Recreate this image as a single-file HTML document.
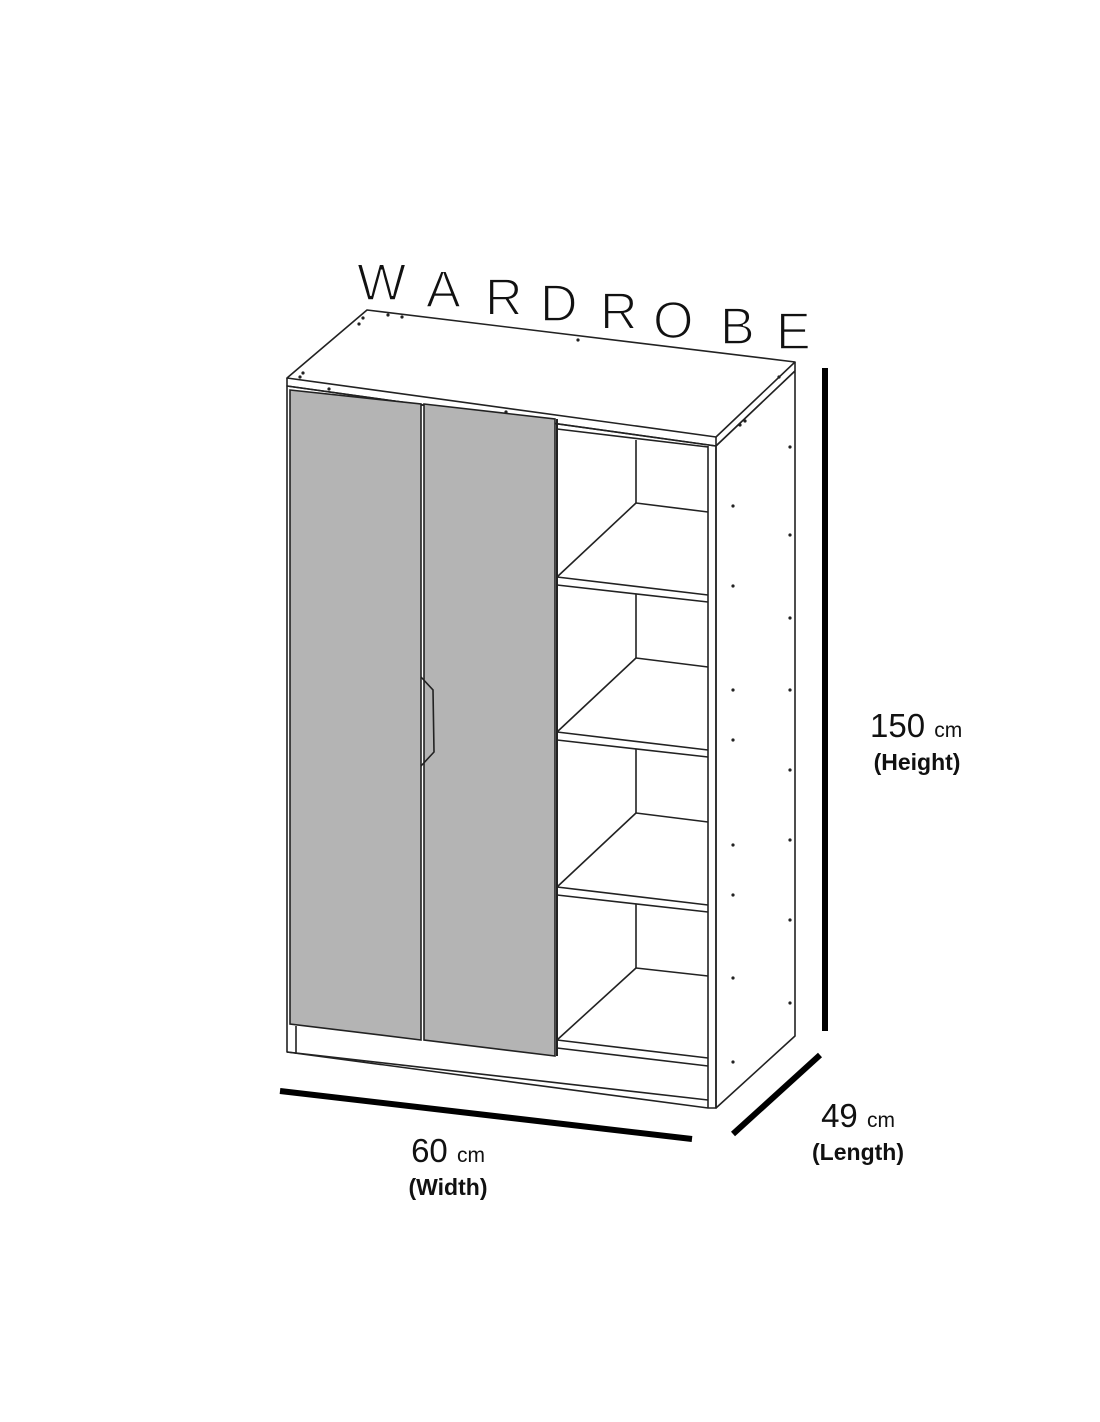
<!DOCTYPE html>
<html><head><meta charset="utf-8"><style>
html,body{margin:0;padding:0;background:#fff;}
svg{display:block}
text{font-family:"Liberation Sans",sans-serif;fill:#111}
</style></head><body>
<svg width="1100" height="1422" viewBox="0 0 1100 1422" xmlns="http://www.w3.org/2000/svg">
<g font-size="52" font-weight="normal" style="stroke:#fff;stroke-width:1.6px;paint-order:normal">
<text x="357" y="300">W</text>
<text x="426" y="307">A</text>
<text x="485" y="315">R</text>
<text x="540" y="321">D</text>
<text x="600" y="329">R</text>
<text x="653" y="338">O</text>
<text x="720" y="344">B</text>
<text x="776" y="349">E</text>
</g>
<g fill="none" stroke="#222" stroke-width="1.6" stroke-linejoin="round">
<polygon points="287,378 367,310 795,362 716,437" fill="#fff"/>
<polyline points="287,378 287,386 716,446 716,437"/>
<line x1="716" y1="446" x2="795" y2="371"/>
<line x1="795" y1="362" x2="795" y2="371"/>
<polygon points="716,446 795,371 795,1036 716,1108" fill="#fff"/>
<line x1="708" y1="446" x2="708" y2="1108"/>
<polygon points="287,386 287,1052 708,1108 716,1108 716,446" fill="none"/>
<line x1="287" y1="1052" x2="708" y2="1100"/>
<line x1="296" y1="1026" x2="296" y2="1054"/>
<line x1="557" y1="429" x2="708" y2="447"/>
<line x1="636" y1="440" x2="636" y2="503"/>
<line x1="557" y1="1048" x2="708" y2="1066"/>
<line x1="557" y1="1040" x2="708" y2="1058"/>
</g>
<g fill="none" stroke="#222" stroke-width="1.6">
<g id="sh">
<line x1="557" y1="577" x2="636" y2="503"/>
<line x1="636" y1="503" x2="708" y2="512"/>
<line x1="557" y1="577" x2="708" y2="595"/>
<line x1="557" y1="585" x2="708" y2="602"/>
<line x1="636" y1="594" x2="636" y2="658"/>
</g>
<use href="#sh" transform="translate(0,155)"/>
<use href="#sh" transform="translate(0,310)"/>
<line x1="557" y1="1040" x2="636" y2="968"/>
<line x1="636" y1="968" x2="708" y2="976"/>
</g>
<g stroke="#222" stroke-width="1.6" fill="#b4b4b4">
<polygon points="290,390 421,404 421,1040 290,1024"/>
<polygon points="424,404 555,419 555,1056 424,1040"/>
<path d="M421,677 L433,690 L434,752 L421,766" fill="none"/>
</g>
<line x1="557" y1="419" x2="557" y2="1056" stroke="#222" stroke-width="2"/>
<g fill="#222">
<circle cx="733" cy="506" r="1.6"/><circle cx="733" cy="586" r="1.6"/><circle cx="733" cy="690" r="1.6"/><circle cx="733" cy="740" r="1.6"/>
<circle cx="733" cy="845" r="1.6"/><circle cx="733" cy="895" r="1.6"/><circle cx="733" cy="978" r="1.6"/><circle cx="733" cy="1062" r="1.6"/>
<circle cx="790" cy="447" r="1.6"/><circle cx="790" cy="535" r="1.6"/><circle cx="790" cy="618" r="1.6"/><circle cx="790" cy="690" r="1.6"/>
<circle cx="790" cy="770" r="1.6"/><circle cx="790" cy="840" r="1.6"/><circle cx="790" cy="920" r="1.6"/><circle cx="790" cy="1003" r="1.6"/>
<circle cx="359" cy="324" r="1.6"/><circle cx="363" cy="318" r="1.6"/><circle cx="402" cy="317" r="1.6"/><circle cx="388" cy="315" r="1.6"/>
<circle cx="303" cy="373" r="1.6"/><circle cx="300" cy="377" r="1.6"/><circle cx="329" cy="389" r="1.6"/><circle cx="506" cy="412" r="1.6"/>
<circle cx="578" cy="340" r="1.6"/><circle cx="740" cy="425" r="1.6"/><circle cx="745" cy="421" r="1.6"/><circle cx="779" cy="377" r="1.6"/>
</g>
<g stroke="#000" stroke-width="6" stroke-linecap="butt">
<line x1="825" y1="368" x2="825" y2="1031"/>
<line x1="280" y1="1091" x2="692" y2="1139"/>
<line x1="733" y1="1134" x2="820" y2="1055"/>
</g>
<text x="870" y="737" font-size="33">150 <tspan font-size="21">cm</tspan></text>
<text x="917" y="770" font-size="23" font-weight="bold" text-anchor="middle">(Height)</text>
<text x="448" y="1162" font-size="33" text-anchor="middle">60 <tspan font-size="21">cm</tspan></text>
<text x="448" y="1195" font-size="23" font-weight="bold" text-anchor="middle">(Width)</text>
<text x="858" y="1127" font-size="33" text-anchor="middle">49 <tspan font-size="21">cm</tspan></text>
<text x="858" y="1160" font-size="23" font-weight="bold" text-anchor="middle">(Length)</text>
</svg>
</body></html>
